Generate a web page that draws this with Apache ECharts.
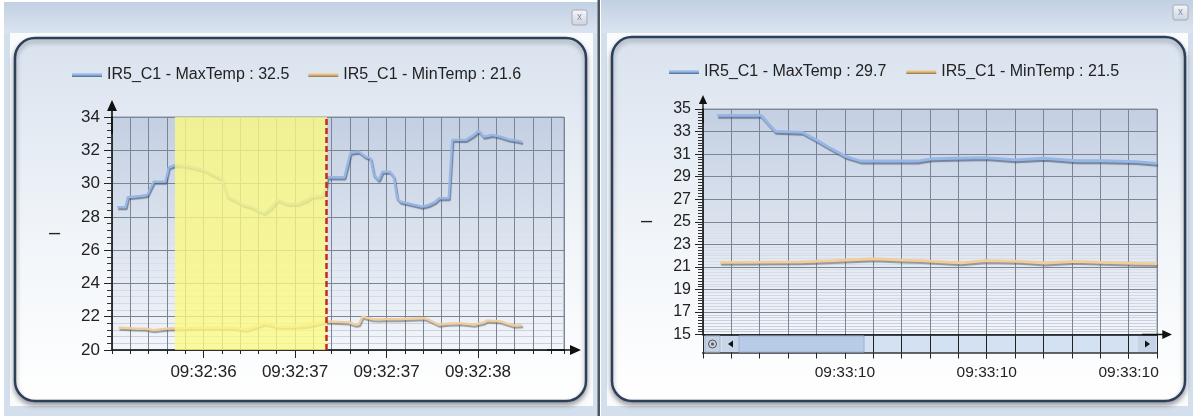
<!DOCTYPE html>
<html>
<head>
<meta charset="utf-8">
<script src="https://cdn.jsdelivr.net/npm/echarts@6/dist/echarts.min.js"></script>
<style>
  html, body { margin: 0; padding: 0; background: #ffffff; }
  #chart { width: 1193px; height: 416px; }
</style>
</head>
<body>
<div id="chart"></div>
<script>
// Two temperature monitor panels: IR5_C1 max / min temperature over a few seconds.
const FONT = '"Liberation Sans", Arial, sans-serif';

const seriesLabels = ['IR5_C1 - MaxTemp', 'IR5_C1 - MinTemp'];
const leftReadings = [32.5, 21.6];
const rightReadings = [29.7, 21.5];

// clock prefixes; x values are seconds within that minute
const leftClock = '09:32:';
const rightClock = '09:33:';
const leftXRange = [36, 38.47];
const rightXRange = [10, 10.32];
const leftYRange = [20, 34];
const rightYRange = [15, 35];

// highlighted window and cursor on the left panel (seconds)
const highlightWindow = [36.344, 37.175];
const cursorSec = 37.175;

// left panel, max temperature
const leftMaxSec = [36.028, 36.074, 36.086, 36.156, 36.192, 36.228, 36.292, 36.310, 36.347, 36.411,
  36.502, 36.556, 36.602, 36.630, 36.675, 36.720, 36.766, 36.811, 36.833, 36.866,
  36.906, 36.957, 37.012, 37.067, 37.094, 37.149, 37.170, 37.176, 37.270, 37.303,
  37.349, 37.385, 37.413, 37.431, 37.458, 37.477, 37.518, 37.540, 37.558, 37.577,
  37.631, 37.695, 37.731, 37.768, 37.786, 37.840, 37.859, 37.932, 37.977, 38.004,
  38.032, 38.078, 38.123, 38.168, 38.214, 38.241];
const leftMaxTemp = [28.58, 28.58, 29.18, 29.26, 29.32, 30.12, 30.12, 30.98, 31.12, 31.06,
  30.82, 30.52, 30.26, 29.22, 28.98, 28.72, 28.58, 28.32, 28.22, 28.52,
  29.02, 28.78, 28.78, 29.02, 29.22, 29.26, 29.82, 30.38, 30.38, 31.86,
  31.92, 31.62, 31.52, 30.52, 30.22, 30.72, 30.72, 30.42, 29.12, 28.92,
  28.78, 28.62, 28.72, 28.92, 29.12, 29.12, 32.62, 32.62, 32.92, 33.18,
  32.82, 32.92, 32.82, 32.66, 32.58, 32.5];

// left panel, min temperature
const leftMinSec = [36.036, 36.120, 36.183, 36.226, 36.310, 36.373, 36.521, 36.648, 36.732, 36.837,
  36.901, 36.985, 37.069, 37.175, 37.294, 37.331, 37.349, 37.368, 37.422, 37.458,
  37.467, 37.495, 37.567, 37.577, 37.704, 37.731, 37.786, 37.832, 37.904, 37.977,
  38.032, 38.050, 38.123, 38.160, 38.196, 38.241];
const leftMinTemp = [21.34, 21.30, 21.28, 21.20, 21.30, 21.32, 21.34, 21.36, 21.22, 21.60,
  21.42, 21.40, 21.46, 21.72, 21.66, 21.52, 21.55, 22.00, 21.86, 21.84,
  21.96, 21.86, 21.86, 21.94, 21.92, 21.82, 21.52, 21.58, 21.62, 21.52,
  21.66, 21.78, 21.72, 21.58, 21.46, 21.50];

// right panel, max temperature
const rightMaxSec = [10.010, 10.041, 10.051, 10.070, 10.080, 10.090, 10.101, 10.111, 10.133, 10.152,
  10.161, 10.175, 10.199, 10.220, 10.241, 10.263, 10.282, 10.305, 10.320];
const rightMaxTemp = [34.44, 34.44, 33.02, 32.93, 32.25, 31.51, 30.77, 30.39, 30.39, 30.39,
  30.57, 30.63, 30.68, 30.48, 30.63, 30.41, 30.41, 30.33, 30.18];

// right panel, min temperature
const rightMinSec = [10.012, 10.041, 10.069, 10.092, 10.121, 10.140, 10.154, 10.175, 10.182, 10.199,
  10.223, 10.241, 10.262, 10.281, 10.305, 10.320];
const rightMinTemp = [21.40, 21.42, 21.45, 21.55, 21.72, 21.60, 21.55, 21.40, 21.35, 21.55,
  21.48, 21.34, 21.48, 21.40, 21.32, 21.28];

const LG = echarts.graphic.LinearGradient;
const pairs = (xs, ys) => xs.map((x, i) => [x, ys[i]]);
const clockLabel = prefix => v => {
  const s = Math.floor(v + 1e-6);
  return prefix + (s < 10 ? '0' : '') + s;
};
const legendName = (label, value) => label + ' : ' + value.toFixed(1);

const leftNames = seriesLabels.map((l, i) => legendName(l, leftReadings[i]));
const rightNames = seriesLabels.map((l, i) => legendName(l, rightReadings[i]));

// arrow head with a short stem, pointing along the axis
const arrowPath = 'path://M5,0L10,11L5.8,11L5.8,34L4.2,34L4.2,11L0,11Z';

const BLUE = '#96b7e6', BLUE_SHADOW = 'rgba(60,76,108,0.62)';
const ORANGE = '#f1cd9a', ORANGE_SHADOW = 'rgba(95,95,95,0.6)';
const blueIcon = new LG(0, 0, 0, 1, [{offset: 0, color: '#b4cff3'}, {offset: 0.5, color: '#8eafe0'}, {offset: 1, color: '#4b6690'}]);
const orangeIcon = new LG(0, 0, 0, 1, [{offset: 0, color: '#f7deb2'}, {offset: 0.5, color: '#deb67a'}, {offset: 1, color: '#857560'}]);

const plotBg = () => new LG(0, 0, 0, 1, [{offset: 0, color: '#c3cfe2'}, {offset: 1, color: '#f3f6fa'}]);
const panelBg = () => new LG(0, 0, 0, 1, [{offset: 0, color: '#d9e2ee'}, {offset: 0.55, color: '#f1f5f9'}, {offset: 1, color: '#ffffff'}]);
const titleBg = () => new LG(0, 0, 0, 1, [{offset: 0, color: '#c2d0e3'}, {offset: 1, color: '#dbe4f0'}]);
const closeBg = () => new LG(0, 0, 0, 1, [{offset: 0, color: '#f7f8fb'}, {offset: 1, color: '#ccd3de'}]);
// fine horizontal rules fade out towards the darker top of the plot
const minorRule = (top, bottom) => new LG(0, top, 0, bottom, [
  {offset: 0, color: 'rgba(205,212,224,0)'}, {offset: 0.4, color: 'rgba(205,212,224,0)'},
  {offset: 1, color: 'rgba(196,204,217,1)'}], true);

function yAxis(gridIndex, range, minorSplit, arrowLen, labelSize, nameGap, rule) {
  return {
    type: 'value', gridIndex, min: range[0], max: range[1], interval: 2,
    name: '–', nameLocation: 'middle', nameGap, nameRotate: 0,
    nameTextStyle: {fontSize: 20, color: '#222', fontFamily: FONT},
    axisLine: {show: true, onZero: false, lineStyle: {color: '#111', width: 1.5},
      symbol: ['none', arrowPath], symbolSize: [10, arrowLen]},
    axisTick: {show: true, length: 8, lineStyle: {color: '#222', width: 1}},
    minorTick: {show: true, splitNumber: minorSplit, length: 5, lineStyle: {color: '#333', width: 1}},
    splitLine: {show: true, lineStyle: {color: '#7c8595', width: 1}},
    minorSplitLine: {show: true, lineStyle: {color: rule, width: 1}},
    axisLabel: {fontSize: labelSize, color: '#222', fontFamily: FONT, margin: 12}
  };
}

// fine axis: grid columns and short ticks
function fineXAxis(gridIndex, range, step, tickLen, arrowLen) {
  return {
    type: 'value', gridIndex, position: 'bottom', min: range[0], max: range[1], interval: step,
    axisLine: {show: true, onZero: false, lineStyle: {color: '#111', width: 1.5},
      symbol: ['none', arrowPath], symbolSize: [10, arrowLen]},
    axisTick: {show: true, length: tickLen, lineStyle: {color: '#222', width: 1}},
    splitLine: {show: true, lineStyle: {color: '#7c8595', width: 1}},
    axisLabel: {show: false}
  };
}

// labelled axis: clock text and long ticks
function labelXAxis(gridIndex, range, step, tickLen, margin, prefix, size) {
  return {
    type: 'value', gridIndex, position: 'bottom', min: range[0], max: range[1], interval: step,
    axisLine: {show: false, onZero: false},
    axisTick: {show: true, length: tickLen, lineStyle: {color: '#222', width: 1}},
    splitLine: {show: false},
    axisLabel: {show: true, margin, formatter: clockLabel(prefix), showMinLabel: false, showMaxLabel: false,
      fontSize: size, color: '#222', fontFamily: FONT}
  };
}

function lineSeries(name, xi, yi, xs, ys, color, shadow, width) {
  return {
    type: 'line', name, xAxisIndex: xi, yAxisIndex: yi, data: pairs(xs, ys),
    showSymbol: false, symbol: 'none', silent: true, z: 2,
    lineStyle: {color, width, shadowColor: shadow, shadowBlur: 1, shadowOffsetX: 1, shadowOffsetY: 2},
    itemStyle: {color}
  };
}

function legend(left, top, names, gap, size) {
  return {
    left, top, orient: 'horizontal', icon: 'rect', itemWidth: 30, itemHeight: 4, itemGap: gap,
    selectedMode: false,
    textStyle: {fontSize: size, color: '#222', fontFamily: FONT},
    data: [{name: names[0], itemStyle: {color: blueIcon}}, {name: names[1], itemStyle: {color: orangeIcon}}]
  };
}

// window chrome around both panels
function windowChrome(x, y, w, h, titleH, panel, close) {
  return [
    {type: 'rect', z: -20, shape: {x, y, width: w, height: h}, style: {fill: '#d3dfed'}},
    {type: 'rect', z: -19, shape: {x: x + 6, y: y + titleH, width: w - 11, height: h - titleH - 10}, style: {fill: '#fafbfd'}},
    {type: 'rect', z: -19, shape: {x, y, width: w, height: titleH}, style: {fill: titleBg()}},
    {type: 'rect', z: -18, shape: {x: panel[0], y: panel[1], width: panel[2], height: panel[3], r: 20},
      style: {fill: panelBg(), stroke: '#2c405e', lineWidth: 2.5, shadowBlur: 5, shadowOffsetY: 3, shadowColor: 'rgba(0,0,0,0.35)'}},
    {type: 'rect', z: -18, shape: {x: close[0], y: close[1], width: 15, height: 15, r: 2},
      style: {fill: closeBg(), stroke: '#a3aab8', lineWidth: 1}},
    {type: 'text', z: -17, x: close[0] + 7.5, y: close[1] + 7, style: {text: 'x', fill: '#8a8ea6',
      font: '10px ' + FONT, align: 'center', verticalAlign: 'middle', textAlign: 'center', textVerticalAlign: 'middle'}}
  ];
}

// scrollbar under the right panel's time axis
const sbX = 703, sbY = 335, sbW = 454, sbH = 18;
const scrollbar = [
  {type: 'rect', z: -1, shape: {x: sbX, y: sbY, width: sbW, height: sbH}, style: {fill: '#d4e1f2'}},
  {type: 'line', z: 1, shape: {x1: sbX - 1, y1: sbY + sbH, x2: sbX + sbW, y2: sbY + sbH}, style: {stroke: '#333', lineWidth: 1.5}},
  {type: 'rect', z: 1, shape: {x: sbX + 2, y: sbY + 1, width: 15, height: 16}, style: {fill: '#c5d2e4', stroke: '#a9b6ca', lineWidth: 1}},
  {type: 'circle', z: 1, shape: {cx: sbX + 9.5, cy: sbY + 9, r: 4}, style: {fill: 'none', stroke: '#555', lineWidth: 1}},
  {type: 'circle', z: 1, shape: {cx: sbX + 9.5, cy: sbY + 9, r: 1.5}, style: {fill: '#555'}},
  {type: 'rect', z: 1, shape: {x: sbX + 19, y: sbY + 1, width: 17, height: 16}, style: {fill: '#c9d6e9'}},
  {type: 'polygon', z: 1, shape: {points: [[sbX + 25, sbY + 9], [sbX + 30, sbY + 5.5], [sbX + 30, sbY + 12.5]]}, style: {fill: '#111'}},
  {type: 'rect', z: 1, shape: {x: sbX + 36, y: sbY + 1, width: 125, height: 16}, style: {fill: '#b8cbe7', stroke: '#9db2d3', lineWidth: 1}},
  {type: 'rect', z: 1, shape: {x: sbX + sbW - 19, y: sbY + 1, width: 18, height: 16}, style: {fill: '#c6d3e6'}},
  {type: 'polygon', z: 1, shape: {points: [[sbX + sbW - 7, sbY + 9], [sbX + sbW - 12, sbY + 5.5], [sbX + sbW - 12, sbY + 12.5]]}, style: {fill: '#111'}}
];

const graphics = [].concat(
  windowChrome(4, 2, 594, 414, 31, [15, 38, 571, 363], [572, 10]),
  windowChrome(601, 0, 592, 416, 33, [612, 37, 573, 364], [1173, 5]),
  [{type: 'rect', z: -16, shape: {x: 597.5, y: 0, width: 2.5, height: 416}, style: {fill: '#4d5563'}}],
  scrollbar
);

const chart = echarts.init(document.getElementById('chart'), null, {renderer: 'canvas'});
chart.setOption({
  animation: false,
  backgroundColor: '#ffffff',
  graphic: graphics,
  legend: [
    legend(67, 62, leftNames, 19, 16),
    legend(664, 59, rightNames, 20, 16)
  ],
  grid: [
    {left: 112, top: 117, width: 452, height: 233, show: true, backgroundColor: plotBg(), borderColor: '#8a93a3', borderWidth: 1},
    {left: 703, top: 109, width: 454, height: 225.5, show: true, backgroundColor: plotBg(), borderColor: '#8a93a3', borderWidth: 1}
  ],
  xAxis: [
    fineXAxis(0, leftXRange, 0.1, 4, 34),
    labelXAxis(0, leftXRange, 0.5, 8, 14, leftClock, 17),
    fineXAxis(1, rightXRange, 0.02, 24, 30),
    labelXAxis(1, rightXRange, 0.1, 24, 30, rightClock, 15.5)
  ],
  yAxis: [
    yAxis(0, leftYRange, 5, 34, 17, 52, minorRule(117, 350)),
    yAxis(1, rightYRange, 8, 28, 16, 51, minorRule(109, 334.5))
  ],
  series: [
    Object.assign(lineSeries(leftNames[0], 0, 0, leftMaxSec, leftMaxTemp, BLUE, BLUE_SHADOW, 2.3), {
      markLine: {
        silent: true, symbol: ['none', 'none'], label: {show: false},
        lineStyle: {color: '#c42a22', width: 2.5, type: [6, 3]},
        data: [{xAxis: cursorSec}]
      }
    }),
    lineSeries(leftNames[1], 0, 0, leftMinSec, leftMinTemp, ORANGE, ORANGE_SHADOW, 2.3),
    {
      type: 'custom', xAxisIndex: 0, yAxisIndex: 0, z: 3, silent: true,
      data: [[highlightWindow[0], highlightWindow[1], leftYRange[0]]],
      encode: {x: [0, 1], y: 2},
      renderItem(params, api) {
        const a = api.coord([api.value(0), api.value(2)]);
        const b = api.coord([api.value(1), api.value(2)]);
        const cs = params.coordSys;
        return {type: 'rect', shape: {x: a[0], y: cs.y, width: b[0] - a[0], height: cs.height},
          style: {fill: 'rgba(252,250,128,0.78)'}};
      }
    },
    lineSeries(rightNames[0], 2, 1, rightMaxSec, rightMaxTemp, BLUE, BLUE_SHADOW, 2.8),
    lineSeries(rightNames[1], 2, 1, rightMinSec, rightMinTemp, ORANGE, ORANGE_SHADOW, 2.8)
  ]
});
</script>
</body>
</html>
